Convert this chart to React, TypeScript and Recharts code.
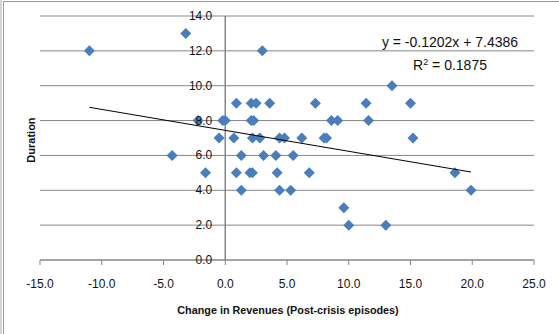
import { ScatterChart, Scatter, XAxis, YAxis, CartesianGrid, ReferenceLine } from 'recharts'

// Change in revenues (x) and duration (y) for each post-crisis episode
const revenueChange = [
  -3.2,
  -11.0, 3.0,
  13.5,
  0.9, 2.1, 2.5, 3.6, 7.3, 11.4, 15.0,
  -2.2, -0.2, 0.0, 2.1, 2.3, 8.6, 9.1, 11.6,
  -0.5, 0.7, 2.2, 2.8, 4.4, 4.8, 6.2, 8.0, 8.2, 15.2,
  -4.3, 1.3, 3.1, 4.1, 5.5,
  -1.6, 0.9, 2.0, 2.2, 4.2, 6.8, 18.6,
  1.3, 4.4, 5.3, 19.9,
  9.6,
  10.0, 13.0,
]
const duration = [
  13,
  12, 12,
  10,
  9, 9, 9, 9, 9, 9, 9,
  8, 8, 8, 8, 8, 8, 8, 8,
  7, 7, 7, 7, 7, 7, 7, 7, 7, 7,
  6, 6, 6, 6, 6,
  5, 5, 5, 5, 5, 5, 5,
  4, 4, 4, 4,
  3,
  2, 2,
]

const xTicks = [-15, -10, -5, 0, 5, 10, 15, 20, 25]
const yTicks = [0, 2, 4, 6, 8, 10, 12, 14]

// linear trendline
const slope = -0.1202
const intercept = 7.4386
const rSquared = 0.1875

const points = revenueChange.map((x, i) => ({ x, y: duration[i] }))
const trend = [Math.min(...revenueChange), Math.max(...revenueChange)].map((x) => ({
  x,
  y: intercept + slope * x,
}))

const W = 559
const H = 334
const Y_AXIS_W = 40
const MARGIN = { top: 16, right: 25, bottom: 44, left: 0 }
const PLOT_W = W - Y_AXIS_W - MARGIN.right
const X_MIN = xTicks[0]
const X_MAX = xTicks[xTicks.length - 1]
// y axis crosses at x = 0, so its labels sit next to that line
const Y_AXIS_OFFSET = (PLOT_W * (0 - X_MIN)) / (X_MAX - X_MIN)

const FONT = "'Liberation Sans', Arial, sans-serif"
const AXIS_GRAY = '#868686'
const BLUE = '#4A7EBB'

function Diamond({ cx, cy }: any) {
  const r = 5.5
  return <path d={`M${cx},${cy - r}L${cx + r},${cy}L${cx},${cy + r}L${cx - r},${cy}Z`} fill={BLUE} />
}

function YTick({ x, y, payload }: any) {
  return (
    <text
      x={x + Y_AXIS_OFFSET - 13}
      y={y}
      textAnchor="end"
      dominantBaseline="central"
      fontSize={12}
      fontFamily={FONT}
      fill="#111"
    >
      {Number(payload.value).toFixed(1)}
    </text>
  )
}

export default function App() {
  return (
    <div style={{ position: 'absolute', left: 0, top: 0, width: W, height: H, background: '#fff', overflow: 'hidden' }}>
      <div style={{ position: 'absolute', left: 0, top: 0, width: 2, height: H, background: '#d4d4d4' }} />
      <div style={{ position: 'absolute', left: 3, top: 1, width: 1, height: H, background: '#9a9a9a' }} />
      <div style={{ position: 'absolute', left: 3, top: 1, width: W, height: 1, background: '#9a9a9a' }} />

      <ScatterChart width={W} height={H} margin={MARGIN} style={{ fontFamily: FONT }}>
        <CartesianGrid vertical={false} stroke={AXIS_GRAY} />
        <XAxis
          type="number"
          dataKey="x"
          domain={[X_MIN, X_MAX]}
          ticks={xTicks}
          allowDataOverflow
          height={30}
          tickFormatter={(v: number) => v.toFixed(1)}
          axisLine={{ stroke: AXIS_GRAY }}
          tickLine={{ stroke: AXIS_GRAY }}
          tickSize={5}
          tickMargin={14}
          tick={{ fontSize: 12, fill: '#111', fontFamily: FONT }}
        />
        <YAxis
          type="number"
          dataKey="y"
          domain={[0, 14]}
          ticks={yTicks}
          interval={0}
          width={Y_AXIS_W}
          axisLine={false}
          tickLine={false}
          tickSize={0}
          tickMargin={0}
          tick={(props: any) => <YTick {...props} />}
        />
        <ReferenceLine x={0} stroke={AXIS_GRAY} strokeWidth={1.5} />
        <Scatter data={points} shape={<Diamond />} isAnimationActive={false} />
        <Scatter
          data={trend}
          line={{ stroke: '#000', strokeWidth: 1 }}
          lineType="joint"
          shape={() => <g />}
          isAnimationActive={false}
        />
      </ScatterChart>

      <div
        style={{
          position: 'absolute',
          left: 350,
          top: 32,
          width: 200,
          textAlign: 'center',
          fontFamily: FONT,
          fontSize: 14,
          lineHeight: '20px',
          color: '#111',
        }}
      >
        <div>{`y = ${slope}x + ${intercept}`}</div>
        <div>
          R<sup style={{ fontSize: 9, verticalAlign: 5 }}>2</sup> = {rSquared}
        </div>
      </div>

      <div
        style={{
          position: 'absolute',
          left: 88,
          top: 302,
          width: 400,
          textAlign: 'center',
          fontFamily: FONT,
          fontWeight: 'bold',
          fontSize: 10.8,
          lineHeight: '16px',
          color: '#111',
        }}
      >
        Change in Revenues (Post-crisis episodes)
      </div>
      <div
        style={{
          position: 'absolute',
          left: 31 - 40,
          top: 140 - 8,
          width: 80,
          textAlign: 'center',
          transform: 'rotate(-90deg)',
          fontFamily: FONT,
          fontWeight: 'bold',
          fontSize: 11,
          lineHeight: '16px',
          color: '#111',
        }}
      >
        Duration
      </div>
    </div>
  )
}
